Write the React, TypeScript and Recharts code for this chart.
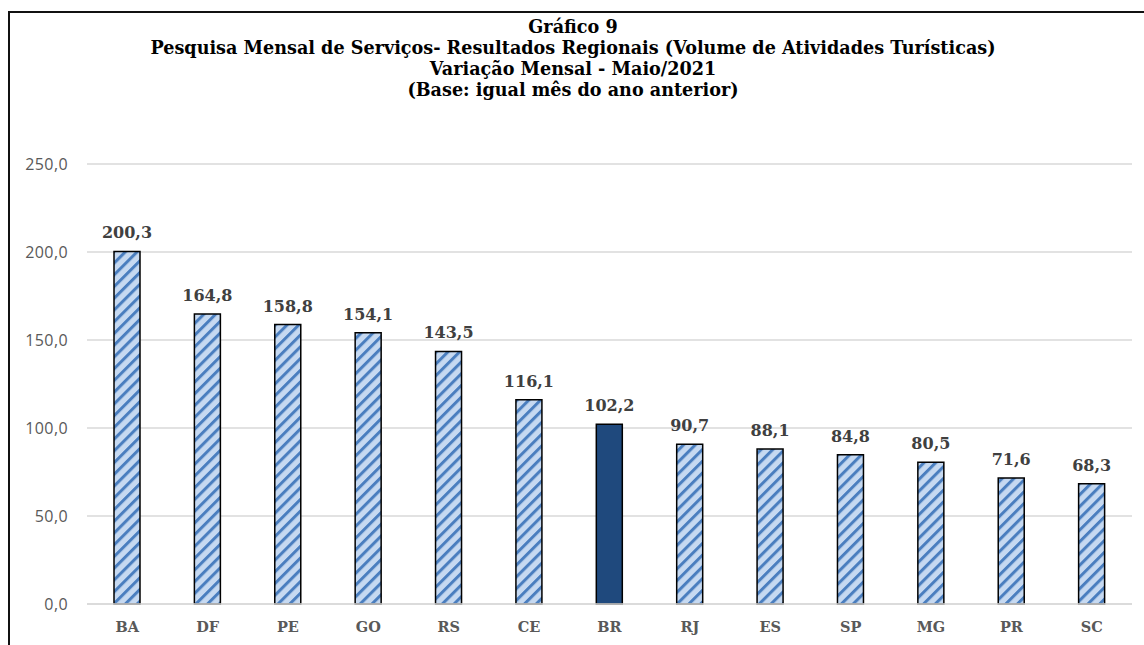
import { BarChart, Bar, XAxis, YAxis, CartesianGrid, Cell, LabelList } from 'recharts';

const categories = ['BA', 'DF', 'PE', 'GO', 'RS', 'CE', 'BR', 'RJ', 'ES', 'SP', 'MG', 'PR', 'SC'];
const values = [200.3, 164.8, 158.8, 154.1, 143.5, 116.1, 102.2, 90.7, 88.1, 84.8, 80.5, 71.6, 68.3];
const yTicks = [0, 50, 100, 150, 200, 250];
const titleLines = [
    'Gráfico 9',
    'Pesquisa Mensal de Serviços- Resultados Regionais (Volume de Atividades Turísticas)',
    'Variação Mensal - Maio/2021',
    '(Base: igual mês do ano anterior)',
];

const data = categories.map((uf, i) => ({ uf, value: values[i] }));

const fmt = (v: number) => v.toFixed(1).replace('.', ',');
const serif = '"DejaVu Serif", serif';

const App = () => {
    return (
        <>
            <style>{`body{margin:0;overflow:hidden;}`}</style>
            <div
                style={{
                    position: 'absolute',
                    left: 8,
                    top: 11,
                    width: 1134,
                    height: 632,
                    borderTop: '2px solid #111',
                    borderLeft: '2px solid #111',
                    background: '#fff',
                }}
            >
                <div
                    style={{
                        position: 'absolute',
                        left: 0,
                        top: 2.5,
                        width: 1126,
                        textAlign: 'center',
                        fontFamily: serif,
                        fontWeight: 'bold',
                        fontSize: 17.6,
                        lineHeight: '21px',
                        color: '#000',
                    }}
                >
                    {titleLines.map((t) => (
                        <div key={t}>{t}</div>
                    ))}
                </div>
                <BarChart
                    width={1134}
                    height={632}
                    data={data}
                    margin={{ top: 151, right: 12, bottom: 11, left: 0 }}
                    barCategoryGap={0}
                >
                    <defs>
                        <pattern
                            id='stripes'
                            patternUnits='userSpaceOnUse'
                            width={8.3}
                            height={8.3}
                            patternTransform='rotate(45)'
                        >
                            <rect width={8.3} height={8.3} fill='#c6d9f1' />
                            <rect width={3} height={8.3} fill='#4a7ebf' />
                        </pattern>
                    </defs>
                    <CartesianGrid vertical={false} stroke='#d9d9d9' strokeWidth={1.3} />
                    <XAxis
                        dataKey='uf'
                        height={30}
                        tickLine={false}
                        axisLine={{ stroke: '#d9d9d9', strokeWidth: 1.3 }}
                        tickMargin={12}
                        tick={{ fontFamily: serif, fontWeight: 'bold', fontSize: 14.5, fill: '#595959' }}
                        interval={0}
                    />
                    <YAxis
                        width={77}
                        domain={[0, 250]}
                        ticks={yTicks}
                        tickFormatter={fmt}
                        tickLine={false}
                        axisLine={false}
                        tickMargin={13}
                        tick={{ fontFamily: '"Open Sans", sans-serif', fontSize: 16, fill: '#595959', letterSpacing: 0.4 }}
                    />
                    <Bar dataKey='value' barSize={26} stroke='#000' strokeWidth={1.5} isAnimationActive={false}>
                        {data.map((d) => (
                            <Cell key={d.uf} fill={d.uf === 'BR' ? '#1f497d' : 'url(#stripes)'} />
                        ))}
                        <LabelList
                            dataKey='value'
                            position='top'
                            offset={13}
                            formatter={(v: any) => fmt(Number(v))}
                            style={{ fontFamily: serif, fontWeight: 'bold', fontSize: 16, fill: '#404040' }}
                        />
                    </Bar>
                </BarChart>
            </div>
        </>
    );
};

export default App;
